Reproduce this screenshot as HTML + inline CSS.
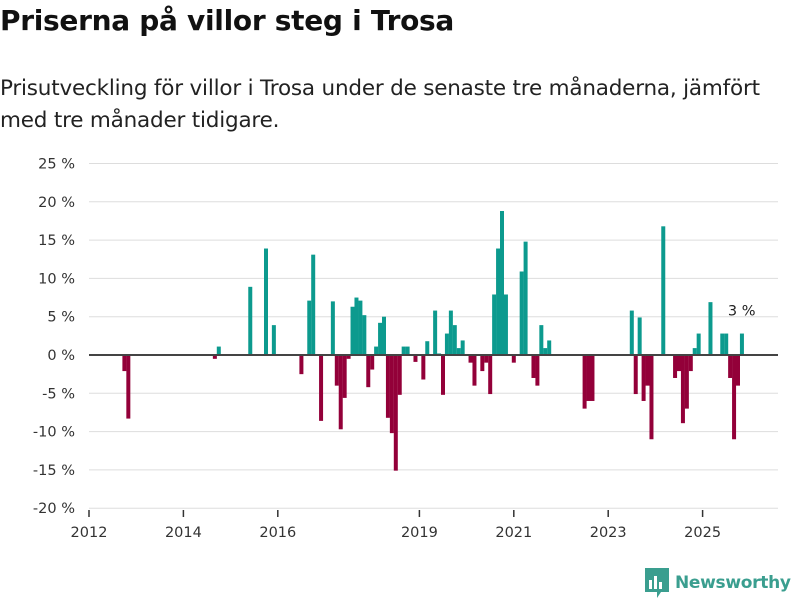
<!DOCTYPE html>
<html><head><meta charset="utf-8">
<style>
body{margin:0;width:800px;height:600px;background:#fff;font-family:"DejaVu Sans","Liberation Sans",sans-serif;color:#111;overflow:hidden;position:relative}
#title{position:absolute;left:0;top:4px;font-size:28px;font-weight:bold;margin:0;letter-spacing:-0.3px}
#sub{position:absolute;left:0;top:73px;font-size:21.5px;line-height:32px;width:785px;color:#222;letter-spacing:-0.2px}
svg{position:absolute;left:0;top:0}
</style></head><body>
<h1 id="title">Priserna på villor steg i Trosa</h1>
<div id="sub">Prisutveckling för villor i Trosa under de senaste tre månaderna, jämfört med tre månader tidigare.</div>
<svg id="chart" width="800" height="600"></svg>
<script>
const months=[9,10,32,33,41,45,47,54,56,57,59,62,63,64,65,66,67,68,69,70,71,72,73,74,75,76,77,78,79,80,81,83,85,86,88,89,90,91,92,93,94,95,97,98,100,101,102,103,104,105,106,108,110,111,113,114,115,116,117,126,127,128,138,139,140,141,142,143,146,149,150,151,152,153,154,155,158,161,162,163,164,165,166];
const values=[-2.1,-8.3,-0.5,1.1,8.9,13.9,3.9,-2.5,7.1,13.1,-8.6,7.0,-4.0,-9.7,-5.6,-0.5,6.3,7.5,7.1,5.2,-4.2,-1.9,1.1,4.2,5.0,-8.2,-10.2,-15.1,-5.2,1.1,1.1,-0.9,-3.2,1.8,5.8,0.2,-5.2,2.8,5.8,3.9,0.9,1.9,-1.0,-4.0,-2.1,-1.0,-5.1,7.9,13.9,18.8,7.9,-1.0,10.9,14.8,-3.0,-4.0,3.9,0.9,1.9,-7.0,-6.0,-6.0,5.8,-5.1,4.9,-6.0,-4.0,-11.0,16.8,-3.0,-2.1,-8.9,-7.0,-2.1,0.9,2.8,6.9,2.8,2.8,-3.0,-11.0,-4.0,2.8];
const yTicks=[25,20,15,10,5,0,-5,-10,-15,-20];
const xTickYears=[2012,2014,2016,2019,2021,2023,2025];
const lastLabel="3 %";
const NS="http://www.w3.org/2000/svg";
const svg=document.getElementById('chart');
const y=v=>355-v*7.66;
const xm=m=>89+m*(47.2/12);
const xy=yr=>xm((yr-2012)*12);
function mk(t,a){const e=document.createElementNS(NS,t);for(const k in a)e.setAttribute(k,a[k]);svg.appendChild(e);return e;}
yTicks.forEach(t=>{
  if(t!==0){const g=mk('line',{x1:89,x2:778,y1:y(t),y2:y(t),stroke:'#ddd','stroke-width':1});
  
  }
  const tx=mk('text',{x:75,y:y(t)+5,'text-anchor':'end','font-size':14.5,fill:'#333'});
  tx.textContent=t+' %';
  
  
});
months.forEach((m,i)=>{
  const v=values[i];
  const r=mk('rect',{x:xm(m)-2,width:4,y:Math.min(y(v),y(0)),height:Math.abs(y(v)-y(0)),fill:v>=0?'#0c9a8e':'#930039'});
  
  
});
const z=mk('line',{x1:89,x2:778,y1:y(0),y2:y(0),stroke:'#444','stroke-width':2});


xTickYears.forEach(yr=>{
  const tk=mk('line',{x1:xy(yr),x2:xy(yr),y1:510,y2:517,stroke:'#333','stroke-width':1.5});
  
  
  const tx=mk('text',{x:xy(yr),y:537,'text-anchor':'middle','font-size':14.5,fill:'#333'});
  tx.textContent=yr;
  
  
});
const lm=months[months.length-1],lv=values[values.length-1];
const lab=mk('text',{x:xm(lm)-14,y:y(lv)-18,'font-size':14.5,fill:'#222','text-anchor':'start'});
lab.textContent=lastLabel;


</script>
<div style="position:absolute;left:645px;top:568px;display:flex;align-items:center">
<svg width="24" height="30" viewBox="0 0 24 30" style="position:static"><path d="M0 0h24v24h-8l-4 6v-6H0z" fill="#3a9e8f"/><rect x="4" y="12" width="3" height="9" fill="#fff"/><rect x="9" y="8" width="3" height="13" fill="#fff"/><rect x="14" y="14" width="3" height="7" fill="#fff"/></svg>
<span style="font-size:17px;font-weight:bold;color:#3a9e8f;margin-left:6px;letter-spacing:-0.3px">Newsworthy</span></div>
</body></html>
